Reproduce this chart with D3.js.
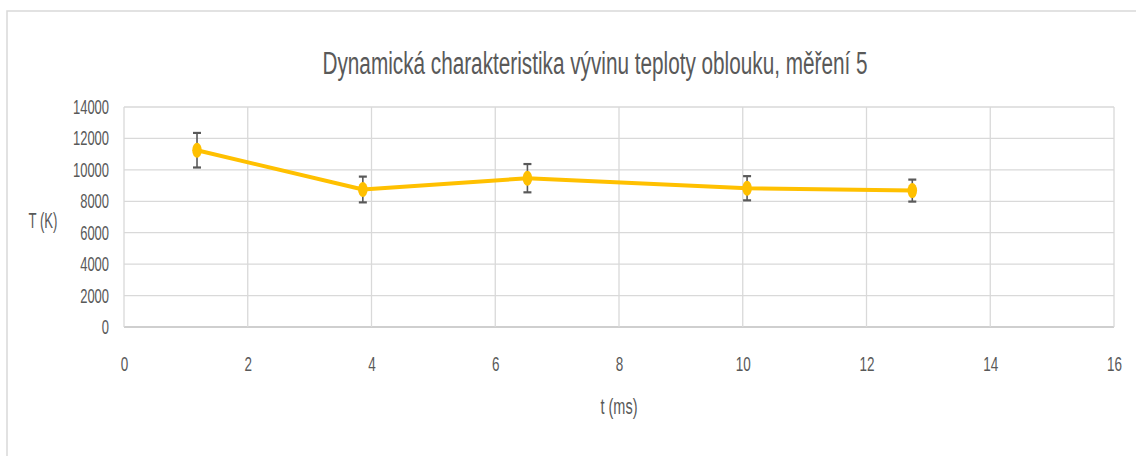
<!DOCTYPE html>
<html>
<head>
<meta charset="utf-8">
<script src="https://cdn.jsdelivr.net/npm/d3@7"></script>
<style>
  html, body { margin: 0; padding: 0; background: #fff; }
  text { font-family: "Liberation Sans", "DejaVu Sans", sans-serif; fill: #595959; }
</style>
</head>
<body>
<svg id="chart" width="1136" height="456"></svg>
<script>
"use strict";

// data
var times = [1.18, 3.86, 6.52, 10.07, 12.74];       // t (ms)
var temps = [11250, 8750, 9470, 8830, 8680];        // T (K)
var errors = [1100, 820, 900, 770, 700];            // +/- error
var xTicks = [0, 2, 4, 6, 8, 10, 12, 14, 16];
var yTicks = [0, 2000, 4000, 6000, 8000, 10000, 12000, 14000];

var titleText = "Dynamická charakteristika vývinu teploty oblouku, měření 5";

var svg = d3.select("#chart");
var margin = {left: 124, top: 107, right: 22, bottom: 129};
var width = 1136 - margin.left - margin.right;
var height = 456 - margin.top - margin.bottom;

// squeeze text horizontally like the narrow source font
function squeeze(sel, perChar) {
  sel.each(function() {
    var t = d3.select(this);
    var n = t.text().length;
    t.attr("textLength", n * perChar).attr("lengthAdjust", "spacingAndGlyphs");
  });
}

// outer chart frame
svg.append("rect")
  .attr("x", 7).attr("y", 11)
  .attr("width", 1140).attr("height", 460)
  .attr("fill", "none")
  .attr("stroke", "#d9d9d9")
  .attr("stroke-width", 1.5);

var x = d3.scaleLinear().domain([0, 16]).range([0, width]);
var y = d3.scaleLinear().domain([0, 14000]).range([height, 0]);

var g = svg.append("g")
  .attr("transform", "translate(" + margin.left + "," + margin.top + ")");

// gridlines
g.append("g").selectAll("line")
  .data(yTicks)
  .enter().append("line")
    .attr("x1", 0).attr("x2", width)
    .attr("y1", function(d) { return y(d); })
    .attr("y2", function(d) { return y(d); })
    .attr("stroke", function(d) { return d === 0 ? "#bfbfbf" : "#d9d9d9"; })
    .attr("stroke-width", 1.3);

g.append("g").selectAll("line")
  .data(xTicks)
  .enter().append("line")
    .attr("x1", function(d) { return x(d); })
    .attr("x2", function(d) { return x(d); })
    .attr("y1", 0).attr("y2", height)
    .attr("stroke", "#d9d9d9")
    .attr("stroke-width", 1.3);

// axes (labels only, lines drawn as grid)
var xAxis = g.append("g")
  .attr("transform", "translate(0," + height + ")")
  .call(d3.axisBottom(x).tickValues(xTicks).tickSize(0).tickPadding(29).tickFormat(d3.format("d")));
xAxis.select(".domain").remove();
xAxis.selectAll("text")
  .style("font-size", "21px")
  .attr("fill", "#595959")
  .call(squeeze, 7.5);

var yAxis = g.append("g")
  .call(d3.axisLeft(y).tickValues(yTicks).tickSize(0).tickPadding(15).tickFormat(d3.format("d")));
yAxis.select(".domain").remove();
yAxis.selectAll("text")
  .style("font-size", "20.5px")
  .attr("fill", "#595959")
  .call(squeeze, 7.2);

// series line
var line = d3.line()
  .x(function(d, i) { return x(times[i]); })
  .y(function(d) { return y(d); });

g.append("path")
  .datum(temps)
  .attr("d", line)
  .attr("fill", "none")
  .attr("stroke", "#ffc000")
  .attr("stroke-width", 4)
  .attr("stroke-linejoin", "round");

// error bars
var eb = g.append("g").selectAll("g")
  .data(temps)
  .enter().append("g");

eb.append("line")
  .attr("x1", function(d, i) { return x(times[i]); })
  .attr("x2", function(d, i) { return x(times[i]); })
  .attr("y1", function(d, i) { return y(d + errors[i]); })
  .attr("y2", function(d, i) { return y(d - errors[i]); })
  .attr("stroke", "#595959").attr("stroke-width", 1.6);

[1, -1].forEach(function(s) {
  eb.append("line")
    .attr("x1", function(d, i) { return x(times[i]) - 4; })
    .attr("x2", function(d, i) { return x(times[i]) + 4; })
    .attr("y1", function(d, i) { return y(d + s * errors[i]); })
    .attr("y2", function(d, i) { return y(d + s * errors[i]); })
    .attr("stroke", "#595959").attr("stroke-width", 2.2);
});

// markers
g.append("g").selectAll("ellipse")
  .data(temps)
  .enter().append("ellipse")
    .attr("cx", function(d, i) { return x(times[i]); })
    .attr("cy", function(d) { return y(d); })
    .attr("rx", 4.8).attr("ry", 7.5)
    .attr("fill", "#ffc000");

// title
svg.append("text")
  .attr("x", 595).attr("y", 74)
  .attr("text-anchor", "middle")
  .style("font-size", "31px")
  .attr("textLength", 545).attr("lengthAdjust", "spacingAndGlyphs")
  .text(titleText);

// axis titles
svg.append("text")
  .attr("x", 43).attr("y", 228)
  .attr("text-anchor", "middle")
  .style("font-size", "22px")
  .attr("textLength", 29).attr("lengthAdjust", "spacingAndGlyphs")
  .text("T (K)");

svg.append("text")
  .attr("x", 619).attr("y", 414)
  .attr("text-anchor", "middle")
  .style("font-size", "22px")
  .attr("textLength", 37).attr("lengthAdjust", "spacingAndGlyphs")
  .text("t (ms)");
</script>
</body>
</html>
